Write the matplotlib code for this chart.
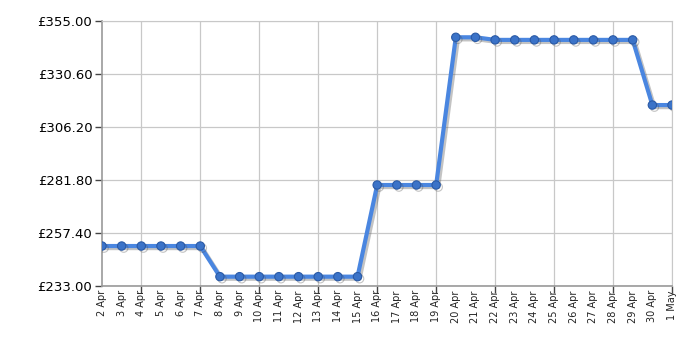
import matplotlib
matplotlib.use("Agg")
import matplotlib.pyplot as plt
import matplotlib.patheffects as pe
import numpy as np

dates = ["2 Apr", "3 Apr", "4 Apr", "5 Apr", "6 Apr", "7 Apr", "8 Apr", "9 Apr", "10 Apr",
         "11 Apr", "12 Apr", "13 Apr", "14 Apr", "15 Apr", "16 Apr", "17 Apr", "18 Apr",
         "19 Apr", "20 Apr", "21 Apr", "22 Apr", "23 Apr", "24 Apr", "25 Apr", "26 Apr",
         "27 Apr", "28 Apr", "29 Apr", "30 Apr", "1 May"]
prices = [251.4, 251.4, 251.4, 251.4, 251.4, 251.4,
          237.3, 237.3, 237.3, 237.3, 237.3, 237.3, 237.3, 237.3,
          279.5, 279.5, 279.5, 279.5,
          347.5, 347.5,
          346.3, 346.3, 346.3, 346.3, 346.3, 346.3, 346.3, 346.3,
          316.3, 316.3]
yticks = [233.0, 257.4, 281.8, 306.2, 330.6, 355.0]

fig = plt.figure(figsize=(7, 3.5), dpi=100)
ax = fig.add_axes([102/700, 64/350, 570/700, 265/350])
x = np.arange(len(dates))

ax.plot(x, prices, color="#4a86e0", lw=3, marker="o", ms=6,
        markerfacecolor="#3b73c8", markeredgecolor="#2a5aa6", markeredgewidth=0.8,
        zorder=3,
        path_effects=[pe.SimpleLineShadow(offset=(1.5, -1.5), shadow_color="#555555", alpha=0.35),
                      pe.Normal()])

ax.set_xlim(0, len(dates) - 1)
ax.set_ylim(233, 355)
ax.set_yticks(yticks)
ax.set_yticklabels([f"£{v:.2f}" for v in yticks], fontsize=9.5)

major = [i for i in range(len(dates)) if (i - 2) % 3 == 0]
ax.set_xticks(major)
ax.set_xticks(x, minor=True)
ax.set_xticklabels([])
for i, d in enumerate(dates):
    ax.text(i, 233 - 1.9, d, rotation=90, ha="center", va="top", fontsize=7,
            color="#222222", transform=ax.transData, clip_on=False)

ax.grid(True, which="major", axis="both", color="#c8c8c8", lw=0.9)
ax.tick_params(axis="x", which="major", length=5, color="#444444", width=1)
ax.tick_params(axis="x", which="minor", length=0)
ax.tick_params(axis="y", length=5, color="#444444", width=1, pad=2)
for s in ["top", "right"]:
    ax.spines[s].set_color("#c8c8c8")
for s in ["left", "bottom"]:
    ax.spines[s].set_color("#999999")
    ax.spines[s].set_linewidth(1.2)
ax.set_axisbelow(True)

fig.savefig("out.png", dpi=100)
